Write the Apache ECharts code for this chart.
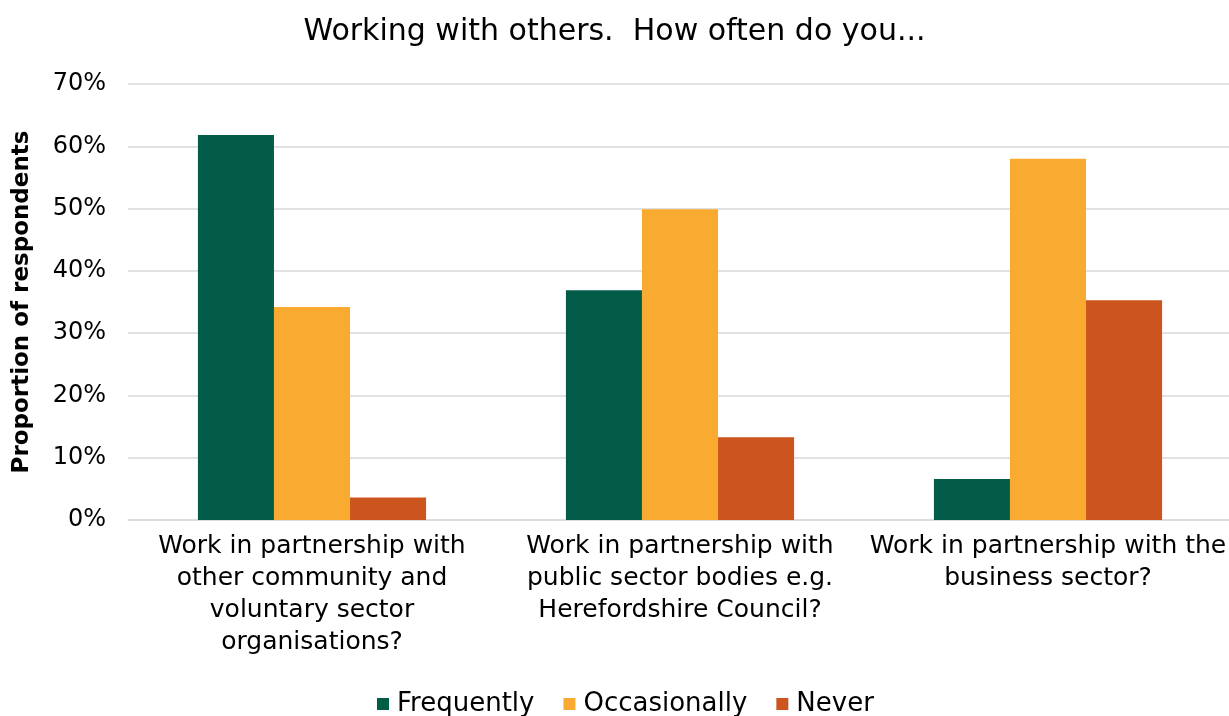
<!DOCTYPE html>
<html>
<head>
<meta charset="utf-8">
<script src="https://cdn.jsdelivr.net/npm/echarts@6/dist/echarts.min.js"></script>
<style>
  html, body { margin: 0; padding: 0; background: #fff; }
  #chart { width: 1229px; height: 716px; }
</style>
</head>
<body>
<div id="chart"></div>
<script>
// Survey question groups (x axis)
const categories = [
  'Work in partnership with\nother community and\nvoluntary sector\norganisations?',
  'Work in partnership with\npublic sector bodies e.g.\nHerefordshire Council?',
  'Work in partnership with the\nbusiness sector?'
];
// Share of respondents, in percent
const frequently   = [61.8, 36.9, 6.6];
const occasionally = [34.2, 49.9, 58.0];
const never        = [3.6, 13.3, 35.3];

const seriesNames = ['Frequently', 'Occasionally', 'Never'];
const seriesColors = ['#035C48', '#F9AA30', '#CC541D'];
const seriesValues = [frequently, occasionally, never];

const font = '"DejaVu Sans", "Noto Sans", sans-serif';
const chart = echarts.init(document.getElementById('chart'), null, { renderer: 'canvas' });

chart.setOption({
  animation: false,
  backgroundColor: '#ffffff',
  textStyle: { fontFamily: font, color: '#000' },
  title: {
    text: 'Working with others.  How often do you...',
    left: 'center',
    top: 12,
    textStyle: { fontFamily: font, fontSize: 30, fontWeight: 'normal', color: '#000' }
  },
  legend: {
    top: 686,
    left: 372,
    itemWidth: 12,
    itemHeight: 12,
    itemGap: 29,
    icon: 'rect',
    textStyle: { fontFamily: font, fontSize: 26, color: '#000', padding: [0, 0, 0, 3] },
    data: seriesNames
  },
  grid: {
    left: 128, top: 84, width: 1104, height: 436,
    containLabel: false, outerBoundsMode: 'none'
  },
  xAxis: {
    type: 'category',
    data: categories,
    axisLine: { show: true, lineStyle: { color: '#D9D9D9', width: 1.5 } },
    axisTick: { show: false },
    axisLabel: {
      fontFamily: font, fontSize: 25, color: '#000', lineHeight: 32, margin: 10,
      interval: 0, align: 'center'
    }
  },
  yAxis: {
    type: 'value',
    min: 0, max: 70, interval: 10,
    name: 'Proportion of respondents',
    nameLocation: 'middle',
    nameGap: 94,
    nameTextStyle: { fontFamily: font, fontSize: 23, fontWeight: 'bold', color: '#000' },
    axisLine: { show: false },
    axisTick: { show: false },
    splitLine: { lineStyle: { color: '#D9D9D9', width: 1.5 } },
    axisLabel: {
      fontFamily: font, fontSize: 24, color: '#000', margin: 22,
      formatter: v => v + '%'
    }
  },
  series: seriesNames.map((name, i) => ({
    name,
    type: 'bar',
    data: seriesValues[i],
    barGap: '0%',
    barCategoryGap: '38%',
    itemStyle: { color: seriesColors[i] }
  }))
});
</script>
</body>
</html>
